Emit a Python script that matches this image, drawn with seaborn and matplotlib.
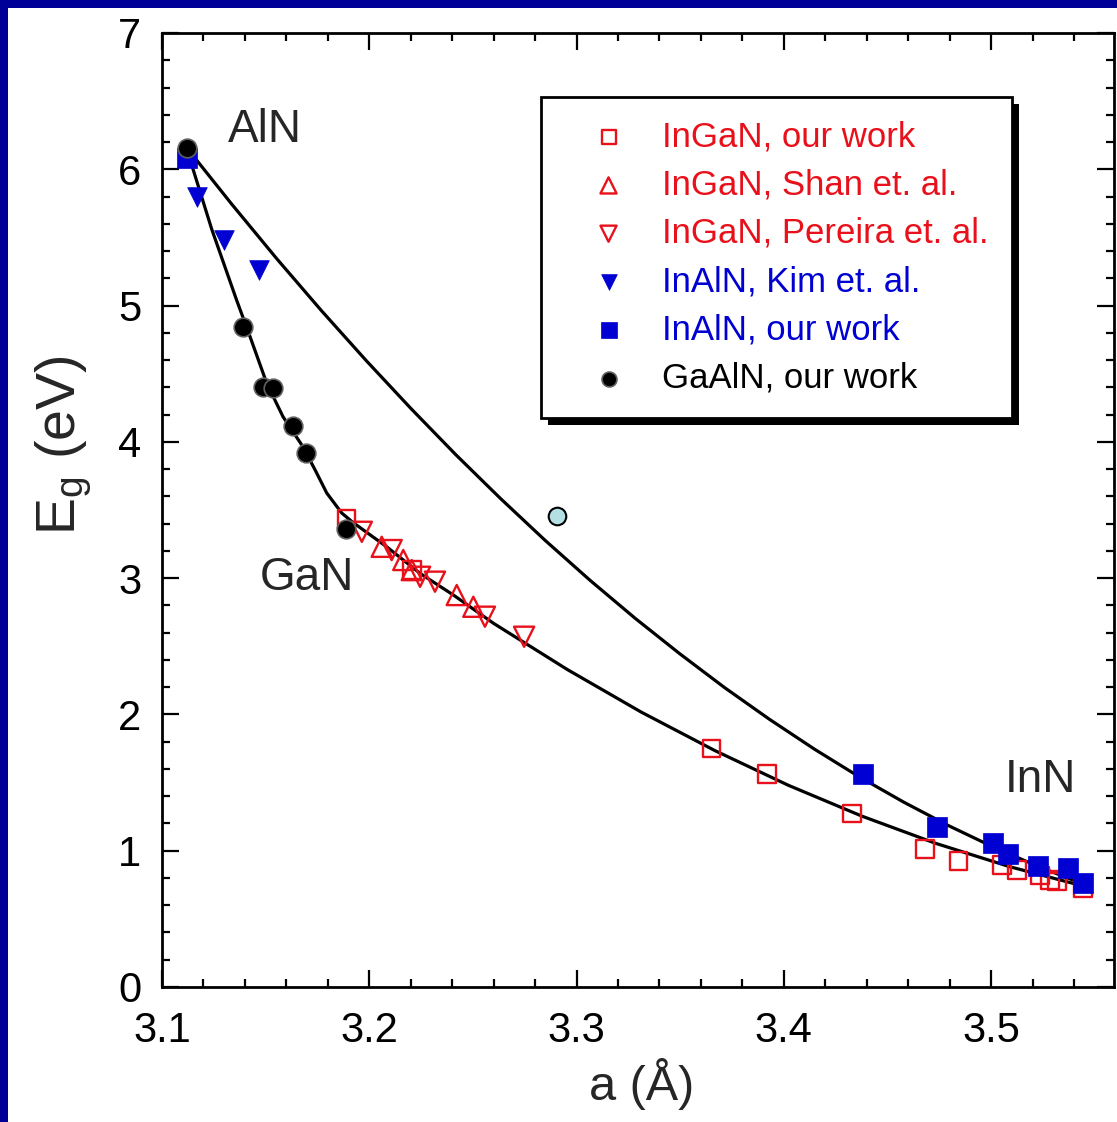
import matplotlib
matplotlib.use("Agg")
import matplotlib.pyplot as plt
from matplotlib.patches import Rectangle
from matplotlib.ticker import MultipleLocator, FormatStrFormatter
import seaborn as sns

# ---------------- data ----------------
ingan_our_a = [3.1891, 3.2205, 3.3652, 3.3918, 3.4328, 3.4682, 3.4842, 3.5052, 3.5124, 3.5236, 3.5285, 3.5317, 3.5444]
ingan_our_eg = [3.434, 3.060, 1.751, 1.563, 1.274, 1.012, 0.924, 0.895, 0.858, 0.817, 0.785, 0.773, 0.726]

ingan_shan_a = [3.2060, 3.2164, 3.2205, 3.2422, 3.2502]
ingan_shan_eg = [3.230, 3.133, 3.059, 2.876, 2.790]

ingan_pereira_a = [3.1964, 3.2108, 3.2245, 3.2317, 3.2558, 3.2747]
ingan_pereira_eg = [3.340, 3.206, 3.010, 2.974, 2.717, 2.570]

inaln_kim_a = [3.1167, 3.1299, 3.1468]
inaln_kim_eg = [5.798, 5.481, 5.260]

inaln_our_a = [3.1121, 3.4381, 3.4738, 3.5010, 3.5082, 3.5227, 3.5370, 3.5444]
inaln_our_eg = [6.082, 1.563, 1.176, 1.056, 0.976, 0.890, 0.875, 0.765]

gaaln_our_a = [3.1121, 3.1389, 3.1487, 3.1536, 3.1632, 3.1695, 3.1888]
gaaln_our_eg = [6.155, 4.840, 4.402, 4.395, 4.116, 3.918, 3.360]

extra_a = [3.2904]
extra_eg = [3.456]

# fitted curves
upper_a = [3.1121, 3.1337, 3.1553, 3.1769, 3.1986, 3.2202, 3.2418, 3.2634, 3.2850, 3.3066, 3.3283,
           3.3499, 3.3715, 3.3931, 3.4147, 3.4363, 3.4579, 3.4796, 3.5012, 3.5228, 3.5444]
upper_eg = [6.155, 5.743, 5.345, 4.963, 4.595, 4.243, 3.905, 3.583, 3.275, 2.983, 2.705,
            2.444, 2.196, 1.964, 1.746, 1.543, 1.356, 1.183, 1.026, 0.884, 0.756]

lower_a = [3.1121, 3.1240, 3.1360, 3.1425, 3.1505, 3.1584, 3.1680, 3.1740, 3.1795, 3.1867, 3.1920,
           3.2084, 3.2245, 3.2406, 3.2600, 3.2956, 3.3311, 3.3667, 3.4022, 3.4378, 3.4733, 3.5089, 3.5444]
lower_eg = [6.141, 5.560, 5.040, 4.771, 4.431, 4.184, 3.964, 3.790, 3.624, 3.478, 3.410,
            3.230, 3.035, 2.876, 2.668, 2.329, 2.018, 1.735, 1.480, 1.253, 1.054, 0.883, 0.741]

x_ticks = [3.1, 3.2, 3.3, 3.4, 3.5]
y_ticks = [0, 1, 2, 3, 4, 5, 6, 7]

labels = ["InGaN, our work", "InGaN, Shan et. al.", "InGaN, Pereira et. al.",
          "InAlN, Kim et. al.", "InAlN, our work", "GaAlN, our work"]

# ---------------- styling ----------------
RED = "#e8101a"
BLUE = "#0000d2"
NAVY = "#000099"

sns.set_style("ticks")
plt.rcParams["font.family"] = ["Liberation Sans", "DejaVu Sans"]
plt.rcParams["mathtext.fontset"] = "custom"
plt.rcParams["mathtext.rm"] = "Liberation Sans"
plt.rcParams["mathtext.it"] = "Liberation Sans"

fig = plt.figure(figsize=(11.17, 11.22), dpi=100)
fig.patch.set_facecolor("white")
ax = fig.add_axes([162 / 1117, 1 - 987 / 1122, (1114 - 162) / 1117, (987 - 33) / 1122])

# blue frame (top and left)
fig.patches.append(Rectangle((0, 1 - 8 / 1122), 1, 8 / 1122, transform=fig.transFigure,
                             facecolor=NAVY, edgecolor="none", zorder=10))
fig.patches.append(Rectangle((0, 0), 8 / 1117, 1, transform=fig.transFigure,
                             facecolor=NAVY, edgecolor="none", zorder=10))

# curves
sns.lineplot(x=upper_a, y=upper_eg, sort=False, estimator=None, color="black", lw=2.3, ax=ax, zorder=2)
sns.lineplot(x=lower_a, y=lower_eg, sort=False, estimator=None, color="black", lw=2.3, ax=ax, zorder=2)

# markers
sns.scatterplot(x=ingan_our_a, y=ingan_our_eg, marker="s", s=160, facecolors="none",
                edgecolor=RED, linewidth=1.7, ax=ax, label=labels[0], zorder=3)
sns.scatterplot(x=ingan_shan_a, y=ingan_shan_eg, marker="^", s=210, facecolors="none",
                edgecolor=RED, linewidth=1.7, ax=ax, label=labels[1], zorder=3)
sns.scatterplot(x=ingan_pereira_a, y=ingan_pereira_eg, marker="v", s=210, facecolors="none",
                edgecolor=RED, linewidth=1.7, ax=ax, label=labels[2], zorder=3)
sns.scatterplot(x=inaln_kim_a, y=inaln_kim_eg, marker="v", s=200, color=BLUE,
                edgecolor=BLUE, linewidth=0.5, ax=ax, label=labels[3], zorder=3)
sns.scatterplot(x=inaln_our_a, y=inaln_our_eg, marker="s", s=190, color=BLUE,
                edgecolor=BLUE, linewidth=0.5, ax=ax, label=labels[4], zorder=3)
sns.scatterplot(x=gaaln_our_a, y=gaaln_our_eg, marker="o", s=180, color="black",
                edgecolor="#606060", linewidth=1.2, ax=ax, label=labels[5], zorder=4)
sns.scatterplot(x=extra_a, y=extra_eg, marker="o", s=160, color="#b4e0e4",
                edgecolor="black", linewidth=1.5, ax=ax, zorder=4)

# axes
ax.set_xlim(3.1, 3.5593)
ax.set_ylim(0, 7)
ax.set_xticks(x_ticks)
ax.set_yticks(y_ticks)
ax.xaxis.set_major_formatter(FormatStrFormatter("%.1f"))
ax.yaxis.set_major_formatter(FormatStrFormatter("%d"))
ax.xaxis.set_minor_locator(MultipleLocator(0.02))
ax.yaxis.set_minor_locator(MultipleLocator(0.2))
ax.tick_params(which="both", direction="in", top=True, right=True, width=1.6, colors="black")
ax.tick_params(which="major", length=12, labelsize=30)
ax.tick_params(which="minor", length=6)
ax.tick_params(axis="x", which="major", pad=17)
ax.tick_params(axis="y", which="major", pad=15)
for sp in ax.spines.values():
    sp.set_linewidth(2.0)
    sp.set_color("black")

ax.set_xlabel("a (Å)", fontsize=35)
ax.xaxis.set_label_coords((642 - 162) / 952, (987 - 1058) / 954)
ax.set_ylabel("E$_{\\mathregular{g}}$ (eV)", fontsize=40)
ax.yaxis.set_label_coords((94 - 162) / 952, (987 - 445) / 954)

# annotations
ax.text(3.1497, 6.29, "AlN", fontsize=33, ha="center", va="center")
ax.text(3.1700, 3.00, "GaN", fontsize=33, ha="center", va="center")
ax.text(3.5236, 1.52, "InN", fontsize=33, ha="center", va="center")

# legend
leg = ax.legend(loc="upper left", bbox_to_anchor=((541 - 162) / 952, (987 - 97) / 954),
                fontsize=25, frameon=True, fancybox=False, edgecolor="black",
                framealpha=1, markerscale=0.8, labelspacing=0.44, borderpad=0.67,
                handlelength=2.55, handletextpad=0.27, borderaxespad=0,
                labelcolor=[RED, RED, RED, BLUE, BLUE, "black"])
leg.get_frame().set_linewidth(2.0)
leg.set_zorder(6)

# thick black drop shadow behind the legend box
fig.canvas.draw()
bb = leg.get_window_extent().transformed(ax.transAxes.inverted())
sx, sy = 7 / 952, 7 / 954
ax.add_patch(Rectangle((bb.x0 + sx, bb.y0 - sy), bb.width, bb.height, transform=ax.transAxes,
                       facecolor="black", edgecolor="none", zorder=5.5, clip_on=False))

fig.savefig("out.png", dpi=100)
